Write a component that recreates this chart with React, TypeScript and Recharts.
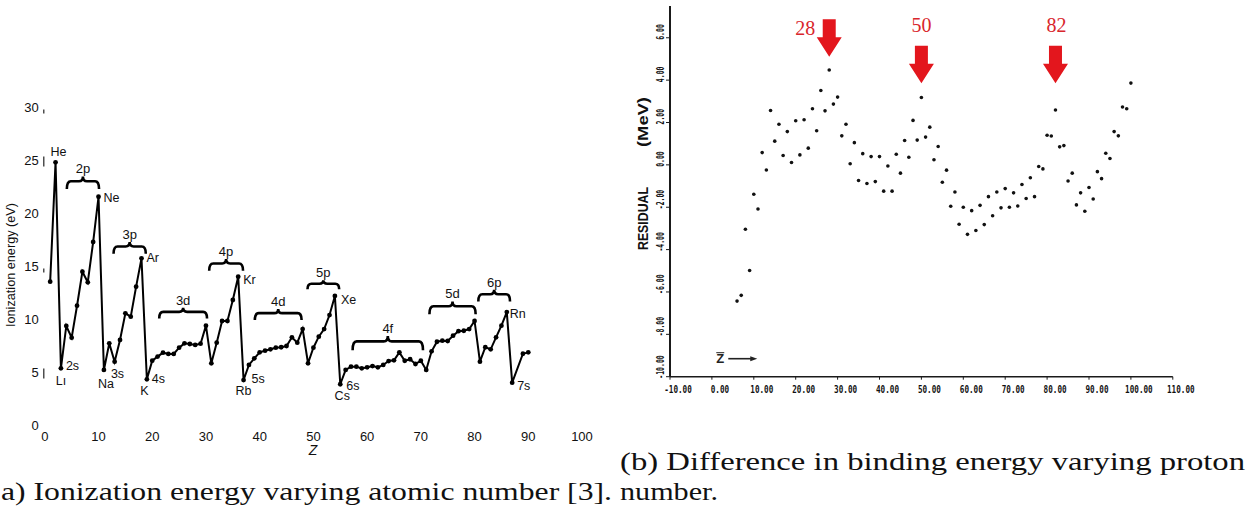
import React from "react";
import { LineChart, Line, XAxis, YAxis, ReferenceArea, ReferenceDot, ScatterChart, Scatter } from "recharts";

// (a) first ionization energy vs atomic number (Z = 88 has no point)
const atomicNumbers = [
  1, 2, 3, 4, 5, 6, 7, 8, 9, 10, 11, 12, 13, 14, 15, 16, 17, 18, 19, 20,
  21, 22, 23, 24, 25, 26, 27, 28, 29, 30, 31, 32, 33, 34, 35, 36, 37, 38, 39, 40,
  41, 42, 43, 44, 45, 46, 47, 48, 49, 50, 51, 52, 53, 54, 55, 56, 57, 58, 59, 60,
  61, 62, 63, 64, 65, 66, 67, 68, 69, 70, 71, 72, 73, 74, 75, 76, 77, 78, 79, 80,
  81, 82, 83, 84, 85, 86, 87, 89, 90,
];
const ionizationEv = [
  13.57, 24.83, 5.39, 9.39, 8.29, 11.3, 14.51, 13.51, 17.31, 21.58, 5.24, 7.75, 6.02, 8.07, 10.58, 10.27, 13.1, 15.77, 4.36, 6.12,
  6.5, 6.87, 6.75, 6.75, 7.34, 7.75, 7.69, 7.6, 7.72, 9.42, 5.87, 7.81, 9.86, 9.86, 11.84, 14.04, 4.29, 5.71, 6.34, 6.9,
  7.06, 7.19, 7.34, 7.38, 7.5, 8.32, 7.81, 9.1, 5.87, 7.34, 8.38, 9.1, 10.42, 12.22, 3.89, 5.24, 5.55, 5.55, 5.39, 5.49,
  5.61, 5.49, 5.71, 6.08, 6.15, 6.9, 6.11, 6.25, 5.8, 6.11, 5.24, 7.0, 7.9, 8.0, 7.97, 8.47, 8.9, 8.94, 9.1, 9.86,
  6.02, 7.38, 7.19, 8.32, 9.42, 10.7, 4.04, 6.77, 6.9,
];

// subshell braces: Z span and eV span
const shellNames = ["2p", "3p", "3d", "4p", "4d", "5p", "4f", "5d", "6p"];
const shellFromZ = [4.1, 12.8, 21.3, 30.6, 39.1, 48.9, 57.3, 71.6, 80.7];
const shellToZ = [10.1, 18.8, 30.2, 36.9, 47.8, 54.8, 70.4, 80.2, 86.6];
const shellTopEv = [23.5, 17.3, 11.1, 15.7, 11.0, 13.7, 8.45, 11.7, 12.8];
const shellBottomEv = [22.3, 16.2, 10.1, 14.6, 9.95, 12.85, 7.1, 10.5, 11.7];

const elementTags = [
  { z: 2, text: "He", dx: 3, dy: -10, anchor: "middle" },
  { z: 10, text: "Ne", dx: 5, dy: 1, anchor: "start" },
  { z: 18, text: "Ar", dx: 5, dy: 0, anchor: "start" },
  { z: 36, text: "Kr", dx: 5, dy: 3, anchor: "start" },
  { z: 54, text: "Xe", dx: 6, dy: 4, anchor: "start" },
  { z: 86, text: "Rn", dx: 3, dy: 2, anchor: "start" },
  { z: 3, text: "2s", dx: 5, dy: -2, anchor: "start" },
  { z: 3, text: "Lı", dx: 0, dy: 12.5, anchor: "middle" },
  { z: 11, text: "Na", dx: 2, dy: 14, anchor: "middle" },
  { z: 11, text: "3s", dx: 7, dy: 4, anchor: "start" },
  { z: 19, text: "K", dx: -2.5, dy: 11.5, anchor: "middle" },
  { z: 19, text: "4s", dx: 5, dy: 0, anchor: "start" },
  { z: 37, text: "Rb", dx: 0, dy: 11, anchor: "middle" },
  { z: 37, text: "5s", dx: 8, dy: -1, anchor: "start" },
  { z: 55, text: "Cs", dx: 2, dy: 12, anchor: "middle" },
  { z: 55, text: "6s", dx: 6, dy: 2, anchor: "start" },
  { z: 87, text: "7s", dx: 5, dy: 3, anchor: "start" },
];

const ionTicksX = [0, 10, 20, 30, 40, 50, 60, 70, 80, 90, 100];
const ionTicksY = [0, 5, 10, 15, 20, 25, 30];

// (b) binding energy residual vs proton number
const protonNumbers = [
  6, 7, 8, 9, 10, 11, 12, 13, 14, 15, 16, 17, 18, 19, 20, 21, 22, 23, 24, 25,
  26, 27, 28, 29, 30, 31, 32, 33, 34, 35, 36, 37, 38, 39, 40, 41, 42, 43, 44, 45,
  46, 47, 48, 49, 50, 51, 52, 53, 54, 55, 56, 57, 58, 59, 60, 61, 62, 63, 64, 65,
  66, 67, 68, 69, 70, 71, 72, 73, 74, 75, 76, 77, 78, 79, 80, 81, 82, 83, 84, 85,
  86, 87, 88, 89, 90, 91, 92, 93, 94, 95, 96, 97, 98, 99, 100,
];
const residualMeV = [
  -6.43, -6.16, -3.04, -4.99, -1.39, -2.08, 0.58, -0.24, 2.57, 1.12, 1.92, 0.44, 1.57, 0.11, 2.08, 0.47, 2.13, 0.79, 2.65, 1.61,
  3.51, 2.55, 4.48, 2.87, 3.2, 1.37, 1.92, 0.05, 1.05, -0.74, 0.53, -0.88, 0.39, -0.79, 0.39, -1.24, -0.05, -1.24, 0.5, -0.39,
  1.15, 0.36, 2.1, 1.17, 3.18, 1.31, 1.78, 0.24, 0.87, -0.82, -0.25, -1.95, -1.28, -2.8, -2.0, -3.28, -2.16, -3.1, -1.91, -2.82,
  -1.5, -2.4, -1.28, -2.03, -1.12, -2.0, -1.32, -1.94, -0.93, -1.59, -0.61, -1.5, -0.08, -0.19, 1.4, 1.36, 2.59, 0.85, 0.91, -0.76,
  -0.39, -1.89, -1.32, -2.19, -1.07, -1.61, -0.32, -0.65, 0.55, 0.3, 1.57, 1.37, 2.73, 2.65, 3.86,
];
const magicNumbers = [28, 50, 82];
const magicArrowTip = [5.1, 3.85, 3.85];
const magicLabelShift = [{ dx: -24, dy: -29 }, { dx: 0, dy: -58 }, { dx: 1, dy: -58 }];

const resTicksX = [-10, 0, 10, 20, 30, 40, 50, 60, 70, 80, 90, 100, 110];
const resTicksY = [-10, -8, -6, -4, -2, 0, 2, 4, 6];

const sans = "'Liberation Sans', Arial, sans-serif";
const mono = "'DejaVu Sans Mono', monospace";
const serif = "'Liberation Serif', 'Times New Roman', serif";
const red = "#e3161d";

const ionData = atomicNumbers.map((z, i) => ({ z, ev: ionizationEv[i] }));
const resData = protonNumbers.map((z, i) => ({ z, r: residualMeV[i] }));
const evAt = (z: number) => ionizationEv[atomicNumbers.indexOf(z)];

function IonYTick({ x, y, payload }: any) {
  const v = payload.value;
  const bar = v === 25 || v === 5 ? [-4, 6] : v === 30 || v === 15 ? [2, 6] : null;
  return (
    <g>
      <text x={x} y={y} textAnchor="end" dominantBaseline="central" fontSize={13} fill="#111" fontFamily={sans}>
        {v}
      </text>
      {bar && <line x1={x + 5} x2={x + 5} y1={y + bar[0]} y2={y + bar[1]} stroke="#222" strokeWidth={1.2} />}
    </g>
  );
}

function IonXTick({ x, y, payload }: any) {
  return (
    <text x={x} y={y + 5} textAnchor="middle" dominantBaseline="central" fontSize={13} fill="#111" fontFamily={sans}>
      {payload.value}
    </text>
  );
}

function Brace({ x, y, width, height, name }: any) {
  const mid = y + height * 0.38;
  const cx = x + width / 2;
  const d = `M${x},${y + height} Q${x},${mid} ${x + 4},${mid} L${cx - 4},${mid} Q${cx},${mid} ${cx},${y} Q${cx},${mid} ${cx + 4},${mid} L${x + width - 4},${mid} Q${x + width},${mid} ${x + width},${y + height}`;
  return (
    <g>
      <path d={d} fill="none" stroke="#000" strokeWidth={2.6} />
      <text x={cx} y={y - 3} textAnchor="middle" fontSize={13} fill="#111" fontFamily={sans}>
        {name}
      </text>
    </g>
  );
}

function ResYTick({ x, y, payload }: any) {
  const s = payload.value.toFixed(2);
  return (
    <text
      transform={`translate(${x - 4},${y + 2}) rotate(-90)`}
      textAnchor="start"
      dominantBaseline="central"
      fontSize={10}
      fontWeight={700}
      fill="#111"
      fontFamily={mono}
      textLength={s.length * 3.9}
      lengthAdjust="spacingAndGlyphs"
    >
      {s}
    </text>
  );
}

function ResXTick({ x, y, payload }: any) {
  const s = payload.value.toFixed(2);
  const w = s.length * 4.6;
  return (
    <text
      x={x + 8 - w / 2}
      y={y + 8}
      dominantBaseline="central"
      fontSize={10}
      fontWeight={700}
      fill="#111"
      fontFamily={mono}
      textLength={w}
      lengthAdjust="spacingAndGlyphs"
    >
      {s}
    </text>
  );
}

export default function App() {
  return (
    <div style={{ position: "absolute", left: 0, top: 0, width: 1249, height: 512, background: "#fff", overflow: "hidden" }}>
      <svg width={1249} height={512} style={{ position: "absolute", left: 0, top: 0 }}>
        <text transform="translate(11,265) rotate(-90)" textAnchor="middle" dominantBaseline="central" fontSize={12} fill="#111" fontFamily={sans} textLength={124} lengthAdjust="spacingAndGlyphs">
          Ionization energy (eV)
        </text>
        <text x={313} y={455} textAnchor="middle" fontSize={14} fontStyle="italic" fill="#111" fontFamily={sans}>
          Z
        </text>
        <text transform="translate(642,250) rotate(-90)" dominantBaseline="central" fontSize={15} fontWeight={700} fill="#111" fontFamily={sans} textLength={63} lengthAdjust="spacingAndGlyphs">
          RESIDUAL
        </text>
        <text transform="translate(642,147) rotate(-90)" dominantBaseline="central" fontSize={15} fontWeight={700} fill="#111" fontFamily={sans} textLength={50} lengthAdjust="spacingAndGlyphs">
          (MeV)
        </text>
        <text x={1} y={500} fontSize={25} fill="#111" fontFamily={serif} textLength={611} lengthAdjust="spacingAndGlyphs">
          a) Ionization energy varying atomic number [3].
        </text>
        <text x={620} y={470} fontSize={25} fill="#111" fontFamily={serif} textLength={625} lengthAdjust="spacingAndGlyphs">
          (b) Difference in binding energy varying proton
        </text>
        <text x={620} y={500} fontSize={25} fill="#111" fontFamily={serif} textLength={98} lengthAdjust="spacingAndGlyphs">
          number.
        </text>
      </svg>

      <div style={{ position: "absolute", left: 0, top: 0 }}>
        <LineChart width={600} height={460} data={ionData} margin={{ top: 107.5, right: 18, bottom: 4.5, left: 4.8 }}>
          <XAxis dataKey="z" type="number" domain={[0, 100]} ticks={ionTicksX} axisLine={false} tickLine={false} tickSize={0} tickMargin={6} height={30} tick={<IonXTick />} />
          <YAxis type="number" domain={[0, 30]} ticks={ionTicksY} axisLine={false} tickLine={false} tickSize={0} tickMargin={6} width={40} tick={<IonYTick />} />
          <Line type="linear" dataKey="ev" stroke="#000" strokeWidth={2} dot={{ r: 2.4, fill: "#000", stroke: "#000", strokeWidth: 0 }} isAnimationActive={false} />
          {shellNames.map((name, i) => (
            <ReferenceArea
              key={name}
              x1={shellFromZ[i]}
              x2={shellToZ[i]}
              y1={shellBottomEv[i]}
              y2={shellTopEv[i]}
              shape={(p: any) => <Brace {...p} name={name} />}
            />
          ))}
          {elementTags.map((t) => (
            <ReferenceDot
              key={t.text}
              x={t.z}
              y={evAt(t.z)}
              r={0}
              shape={(p: any) => (
                <text x={p.cx + t.dx} y={p.cy + t.dy} textAnchor={t.anchor} dominantBaseline="central" fontSize={12.5} fill="#111" fontFamily={sans}>
                  {t.text}
                </text>
              )}
            />
          ))}
        </LineChart>
      </div>

      <div style={{ position: "absolute", left: 620, top: 0 }}>
        <ScatterChart width={629} height={420} margin={{ top: 6, right: 76.2, bottom: 13.3, left: 0 }}>
          <XAxis dataKey="z" type="number" domain={[-10, 110]} ticks={resTicksX} axisLine={{ stroke: "#1a1a1a", strokeWidth: 1.6 }} tickLine={{ stroke: "#1a1a1a" }} tickSize={3} height={30} tick={<ResXTick />} />
          <YAxis dataKey="r" type="number" domain={[-10, 7.5]} ticks={resTicksY} axisLine={{ stroke: "#1a1a1a", strokeWidth: 2 }} tickLine={{ stroke: "#1a1a1a" }} tickSize={4} tickMargin={2} width={50} tick={<ResYTick />} />
          <Scatter data={resData} isAnimationActive={false} shape={(p: any) => <circle cx={p.cx} cy={p.cy} r={1.8} fill="#111" />} />
          {magicNumbers.map((m, i) => (
            <ReferenceDot
              key={m}
              x={m}
              y={magicArrowTip[i]}
              r={0}
              shape={(p: any) => (
                <g>
                  <polygon
                    points={`${p.cx - 6.5},${p.cy - 37.5} ${p.cx + 6.5},${p.cy - 37.5} ${p.cx + 6.5},${p.cy - 19.5} ${p.cx + 12.5},${p.cy - 19.5} ${p.cx},${p.cy} ${p.cx - 12.5},${p.cy - 19.5} ${p.cx - 6.5},${p.cy - 19.5}`}
                    fill={red}
                  />
                  <text x={p.cx + magicLabelShift[i].dx} y={p.cy + magicLabelShift[i].dy} textAnchor="middle" dominantBaseline="central" fontSize={20} fill="#d9262c" fontFamily={serif}>
                    {m}
                  </text>
                </g>
              )}
            />
          ))}
          <ReferenceDot
            x={2}
            y={-9.15}
            r={0}
            shape={(p: any) => (
              <g>
                <text x={p.cx} y={p.cy} textAnchor="middle" dominantBaseline="central" fontSize={13} fontWeight={700} fill="#222" fontFamily={sans}>
                  Z
                </text>
                <line x1={p.cx - 4} x2={p.cx + 4} y1={p.cy - 6} y2={p.cy - 6} stroke="#222" strokeWidth={1} />
                <line x1={p.cx + 8} x2={p.cx + 32} y1={p.cy} y2={p.cy} stroke="#222" strokeWidth={1.6} />
                <polygon points={`${p.cx + 30},${p.cy - 2.5} ${p.cx + 37},${p.cy} ${p.cx + 30},${p.cy + 2.5}`} fill="#222" />
              </g>
            )}
          />
        </ScatterChart>
      </div>
    </div>
  );
}
